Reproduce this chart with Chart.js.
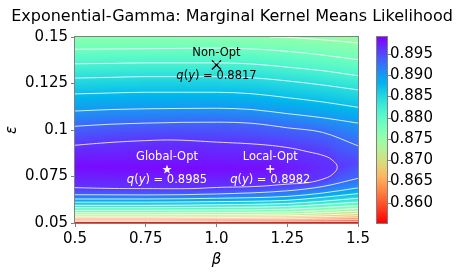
<!DOCTYPE html>
<html>
<head>
<meta charset="utf-8">
<script src="https://cdn.jsdelivr.net/npm/chart.js@4"></script>
<style>
  html, body { margin: 0; padding: 0; background: #fff; }
</style>
</head>
<body>
<canvas id="chart" width="458" height="275"></canvas>
<script>
// axis ticks
const betaTicks = [0.5, 0.75, 1.0, 1.25, 1.5];
const betaLabels = ['0.5', '0.75', '1.0', '1.25', '1.5'];
const epsTicks = [0.05, 0.075, 0.1, 0.125, 0.15];
const epsLabels = ['0.05', '0.075', '0.1', '0.125', '0.15'];
const cbTicks = [0.860, 0.865, 0.870, 0.875, 0.880, 0.885, 0.890, 0.895];
const cbLabels = ['0.860', '0.865', '0.870', '0.875', '0.880', '0.885', '0.890', '0.895'];
const vMin = 0.8552;
const vMax = 0.8990;

// contour lines above the ridge (eps at each beta)
const upperBeta = [0.5, 0.625, 0.75, 0.875, 1.0, 1.125, 1.25, 1.375, 1.5];
const upperLevels = [0.8785, 0.8815, 0.8844, 0.8873, 0.8902, 0.8932];
const upperEps = [
    [0.1434, 0.1436, 0.1437, 0.1439, 0.1440, 0.1436, 0.1423, 0.1403, 0.1378],
    [0.1356, 0.1358, 0.1361, 0.1361, 0.1361, 0.1355, 0.1338, 0.1319, 0.1292],
    [0.1279, 0.1283, 0.1287, 0.1287, 0.1287, 0.1281, 0.1264, 0.1242, 0.1216],
    [0.1194, 0.1199, 0.1203, 0.1203, 0.1203, 0.1195, 0.1174, 0.1151, 0.1122],
    [0.1102, 0.1110, 0.1114, 0.1116, 0.1117, 0.1110, 0.1088, 0.1066, 0.1037],
    [0.1020, 0.1031, 0.1037, 0.1041, 0.1042, 0.1036, 0.1012, 0.0987, 0.0915]
];
// short line in the top right corner
const cornerLevel = 0.8756;
const cornerLine = [[1.19, 0.15], [1.25, 0.1498], [1.375, 0.1485], [1.5, 0.1468]];

// contour lines below the ridge
const lowerBeta = [0.5, 0.75, 1.0, 1.25, 1.375, 1.5];
const lowerLevels = [0.8932, 0.8902, 0.8873, 0.8844, 0.8815, 0.8785, 0.8756,
                     0.8727, 0.8698, 0.8669, 0.8640, 0.8610, 0.8581];
const lowerEps = [
    [0.0652, 0.0651, 0.0656, 0.0673, 0.0696, 0.0740],
    [0.0629, 0.0629, 0.0633, 0.0643, 0.0661, 0.0689],
    [0.0612, 0.0612, 0.0615, 0.0622, 0.0638, 0.0658],
    [0.0595, 0.0595, 0.0598, 0.0605, 0.0617, 0.0633],
    [0.0582, 0.0582, 0.0584, 0.0589, 0.0600, 0.0612],
    [0.0568, 0.0568, 0.0570, 0.0574, 0.0583, 0.0594],
    [0.0555, 0.0555, 0.0556, 0.0560, 0.0567, 0.0579],
    [0.0544, 0.0544, 0.0546, 0.0548, 0.0555, 0.0564],
    [0.0536, 0.0536, 0.0537, 0.0539, 0.0543, 0.0551],
    [0.0528, 0.0528, 0.0529, 0.0531, 0.0534, 0.0539],
    [0.0521, 0.0521, 0.0522, 0.0523, 0.0526, 0.0528],
    [0.0514, 0.0514, 0.0515, 0.0516, 0.0517, 0.0518],
    [0.0508, 0.0508, 0.0508, 0.0509, 0.0509, 0.0509]
];

// the highest contour, open on the left edge
const loopLevel = 0.8961;
const loopLine = [
    [0.5, 0.0690], [0.6237, 0.0686], [0.75, 0.0685], [0.9134, 0.0685], [1.0, 0.0691],
    [1.1466, 0.0697], [1.2491, 0.0709], [1.3233, 0.0717], [1.3834, 0.0740], [1.4117, 0.0764],
    [1.4269, 0.0800], [1.4117, 0.0835], [1.3834, 0.0860], [1.3233, 0.0883], [1.2491, 0.0906],
    [1.1466, 0.0923], [1.0, 0.0935], [0.8534, 0.0946], [0.75, 0.0943], [0.6237, 0.0933], [0.5, 0.0918]
];

// ridge of the surface and values on the top / bottom edges
const ridgeBeta = [0.5, 0.825, 1.19, 1.427, 1.5];
const ridgeEps = [0.0805, 0.0790, 0.0790, 0.0800, 0.0828];
const ridgeVal = [0.8984, 0.8985, 0.8982, 0.8961, 0.8950];
const topBeta = [0.5, 1.0, 1.19, 1.25, 1.5];
const topVal = [0.8763, 0.8763, 0.8756, 0.8754, 0.8745];
const bottomBeta = [0.5, 1.0, 1.5];
const bottomVal = [0.8556, 0.8555, 0.8552];

// marked points
const markNames = ['Non-Opt', 'Global-Opt', 'Local-Opt'];
const markBeta = [1.0, 0.825, 1.19];
const markEps = [0.135, 0.079, 0.079];
const markQ = ['0.8817', '0.8985', '0.8982'];

const FONT = "'DejaVu Sans', 'Liberation Sans', sans-serif";
Chart.defaults.font.family = FONT;
Chart.defaults.color = '#000';

function interp(xs, ys, v) {
    if (v <= xs[0]) return ys[0];
    for (let i = 0; i < xs.length - 1; i++) {
        if (v <= xs[i + 1]) {
            const f = (v - xs[i]) / (xs[i + 1] - xs[i]);
            return ys[i] + f * (ys[i + 1] - ys[i]);
        }
    }
    return ys[ys.length - 1];
}

// matplotlib rainbow_r
function rainbowR(v) {
    let t = (vMax - v) / (vMax - vMin);
    t = Math.min(1, Math.max(0, t));
    const r = Math.min(1, Math.abs(2 * t - 0.5));
    const g = Math.sin(Math.PI * t);
    const b = Math.cos(Math.PI * t / 2);
    return [Math.round(r * 255), Math.round(g * 255), Math.round(b * 255)];
}

// all contour polylines with their level
const lines = [];
lines.push({ level: cornerLevel, pts: cornerLine });
upperLevels.forEach((lv, i) => lines.push({ level: lv, pts: upperBeta.map((b, j) => [b, upperEps[i][j]]) }));
lowerLevels.forEach((lv, i) => lines.push({ level: lv, pts: lowerBeta.map((b, j) => [b, lowerEps[i][j]]) }));
lines.push({ level: loopLevel, pts: loopLine, loop: true });

// colour field between the contours
const heatmap = {
    id: 'heatmap',
    beforeDatasetsDraw(chart) {
        const { ctx, chartArea: a, scales: { x, y } } = chart;
        const w = Math.round(a.right - a.left), h = Math.round(a.bottom - a.top);
        const off = document.createElement('canvas');
        off.width = w; off.height = h;
        const octx = off.getContext('2d');
        const img = octx.createImageData(w, h);
        for (let i = 0; i < w; i++) {
            const b = x.getValueForPixel(a.left + i + 0.5);
            const knots = [
                [0.05, interp(bottomBeta, bottomVal, b)],
                [0.15, interp(topBeta, topVal, b)],
                [interp(ridgeBeta, ridgeEps, b), interp(ridgeBeta, ridgeVal, b)]
            ];
            lines.forEach(l => {
                for (let k = 0; k < l.pts.length - 1; k++) {
                    const [b0, e0] = l.pts[k], [b1, e1] = l.pts[k + 1];
                    if (b >= Math.min(b0, b1) && b < Math.max(b0, b1)) {
                        const f = (b - b0) / (b1 - b0);
                        knots.push([e0 + f * (e1 - e0), l.level]);
                    }
                }
            });
            knots.sort((p, q) => p[0] - q[0]);
            const ks = knots.map(k => k[0]), vs = knots.map(k => k[1]);
            for (let j = 0; j < h; j++) {
                const e = y.getValueForPixel(a.top + j + 0.5);
                const c = rainbowR(interp(ks, vs, e));
                const p = (j * w + i) * 4;
                img.data[p] = c[0]; img.data[p + 1] = c[1]; img.data[p + 2] = c[2]; img.data[p + 3] = 255;
            }
        }
        octx.putImageData(img, 0, 0);
        ctx.drawImage(off, a.left, a.top);
    }
};

function drawQ(ctx, cx, cy, val, color) {
    const parts = [['q', true], ['(', false], ['y', true], [')', false], [' = ' + val, false]];
    const fontN = '11.5px ' + FONT, fontI = 'italic 11.5px ' + FONT;
    let total = 0;
    parts.forEach(p => { ctx.font = p[1] ? fontI : fontN; total += ctx.measureText(p[0]).width; });
    let xx = cx - total / 2;
    ctx.fillStyle = color;
    ctx.textAlign = 'left';
    ctx.textBaseline = 'middle';
    parts.forEach(p => {
        ctx.font = p[1] ? fontI : fontN;
        ctx.fillText(p[0], xx, cy);
        xx += ctx.measureText(p[0]).width;
    });
}

const decor = {
    id: 'decor',
    afterDatasetsDraw(chart) {
        const { ctx, scales: { x, y } } = chart;
        ctx.save();
        markNames.forEach((name, i) => {
            const px = x.getPixelForValue(markBeta[i]);
            const py = y.getPixelForValue(markEps[i]);
            const color = i === 0 ? '#000' : '#fff';
            ctx.font = '11.5px ' + FONT;
            ctx.fillStyle = color;
            ctx.textAlign = 'center';
            ctx.textBaseline = 'middle';
            ctx.fillText(name, px, py - 12);
            drawQ(ctx, px, py + 11, markQ[i], color);
        });
        ctx.restore();
    },
    afterDraw(chart) {
        const { ctx, chartArea: a, scales: { cb } } = chart;
        ctx.save();
        // frame
        ctx.strokeStyle = '#808080';
        ctx.lineWidth = 1;
        ctx.strokeRect(a.left - 0.5, a.top - 0.5, a.right - a.left + 1, a.bottom - a.top + 1);
        // colour bar
        const x0 = 377, x1 = 387;
        const t = Math.round(cb.getPixelForValue(vMax)), bt = Math.round(cb.getPixelForValue(vMin));
        for (let py = t; py < bt; py++) {
            const c = rainbowR(cb.getValueForPixel(py + 0.5));
            ctx.fillStyle = 'rgb(' + c.join(',') + ')';
            ctx.fillRect(x0, py, x1 - x0, 1);
        }
        ctx.strokeRect(x0 - 0.5, t - 0.5, x1 - x0 + 1, bt - t + 1);
        cbTicks.forEach(v => {
            const py = Math.round(cb.getPixelForValue(v)) + 0.5;
            ctx.beginPath();
            ctx.moveTo(x1 + 0.5, py);
            ctx.lineTo(x1 + 4, py);
            ctx.stroke();
        });
        // title
        ctx.fillStyle = '#000';
        ctx.font = '16px ' + FONT;
        ctx.textAlign = 'center';
        ctx.textBaseline = 'alphabetic';
        ctx.fillText('Exponential-Gamma: Marginal Kernel Means Likelihood', 232, 20.5);
        ctx.restore();
    }
};

// filled star marker
const star = document.createElement('canvas');
star.width = 14; star.height = 14;
(function () {
    const s = star.getContext('2d');
    s.fillStyle = '#fff';
    s.beginPath();
    for (let k = 0; k < 10; k++) {
        const r = k % 2 === 0 ? 5 : 2;
        const ang = -Math.PI / 2 + k * Math.PI / 5;
        const px = 7 + r * Math.cos(ang), py = 7.5 + r * Math.sin(ang);
        if (k === 0) s.moveTo(px, py); else s.lineTo(px, py);
    }
    s.closePath();
    s.fill();
})();

const contourSets = lines.map(l => ({
    type: 'line',
    data: l.pts.map(([b, e]) => ({ x: b, y: e })),
    borderColor: 'rgba(255,255,255,0.8)',
    borderWidth: 1,
    pointRadius: 0,
    tension: 0.4,
    cubicInterpolationMode: l.loop ? 'default' : 'monotone',
    fill: false,
    clip: 0
}));

const markStyles = ['crossRot', star, 'cross'];
const markRadius = [6.4, 7, 4];
const markColors = ['#000', '#fff', '#fff'];
const markSets = markNames.map((n, i) => ({
    type: 'scatter',
    data: [{ x: markBeta[i], y: markEps[i] }],
    pointStyle: markStyles[i],
    pointRadius: markRadius[i],
    pointBorderColor: markColors[i],
    pointBackgroundColor: markColors[i],
    pointBorderWidth: 1.4,
    clip: false
}));

const tickGrid = { display: true, drawOnChartArea: false, drawTicks: true, tickLength: 4, color: '#808080' };

new Chart(document.getElementById('chart'), {
    type: 'scatter',
    data: { datasets: contourSets.concat(markSets) },
    plugins: [heatmap, decor],
    options: {
        responsive: false,
        animation: false,
        devicePixelRatio: 1,
        layout: { padding: { top: 27, left: 0, right: 0, bottom: 0 } },
        plugins: { legend: { display: false }, tooltip: { enabled: false } },
        scales: {
            x: {
                type: 'linear', min: 0.5, max: 1.5,
                afterBuildTicks: s => { s.ticks = betaTicks.map(v => ({ value: v })); },
                afterFit: s => { s.height = 52; },
                ticks: { font: { size: 15 }, padding: 3, maxRotation: 0, callback: (v, i) => betaLabels[i] },
                grid: tickGrid,
                border: { display: false },
                title: { display: true, text: 'β', font: { size: 15, style: 'italic' }, padding: { top: 0, bottom: 6 } }
            },
            y: {
                type: 'linear', min: 0.05, max: 0.15,
                afterBuildTicks: s => { s.ticks = epsTicks.map(v => ({ value: v })); },
                afterFit: s => { s.width = 75; },
                ticks: { font: { size: 15 }, padding: 3, callback: (v, i) => epsLabels[i] },
                grid: tickGrid,
                border: { display: false },
                title: { display: true, text: 'ε', font: { size: 15, style: 'italic' }, padding: { top: 3, bottom: 0 } }
            },
            cb: {
                type: 'linear', position: 'right', min: vMin, max: vMax,
                afterBuildTicks: s => { s.ticks = cbTicks.map(v => ({ value: v })); },
                afterFit: s => { s.width = 100; },
                ticks: { font: { size: 15 }, padding: 28, callback: (v, i) => cbLabels[i] },
                grid: { display: true, drawOnChartArea: false, drawTicks: true, tickLength: 4, color: 'rgba(0,0,0,0)' },
                border: { display: false }
            }
        }
    }
});
</script>
</body>
</html>
